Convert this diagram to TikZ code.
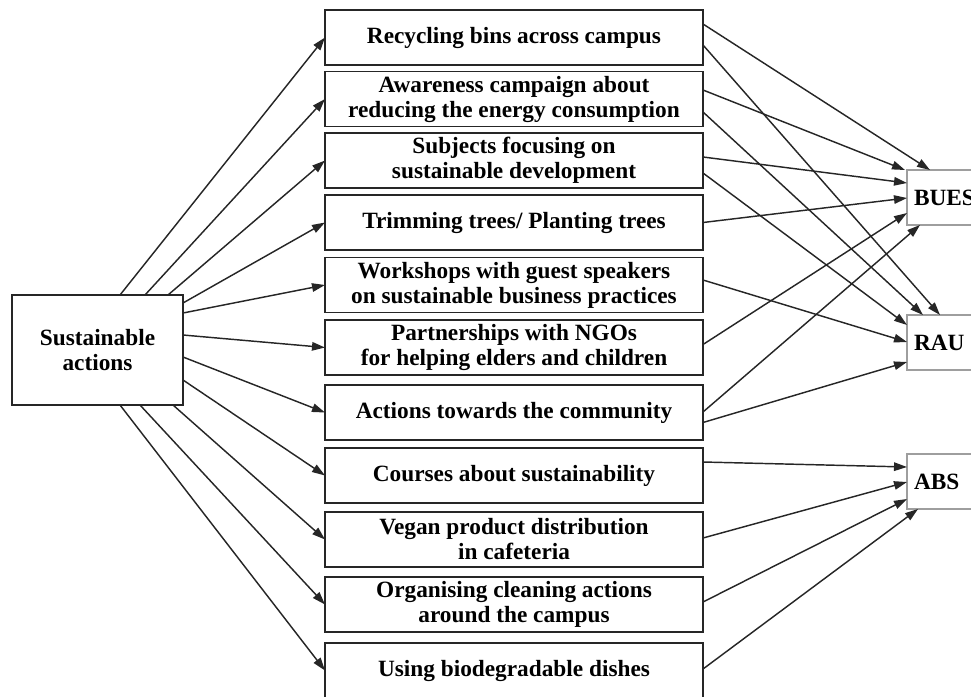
\documentclass[tikz,border=0pt]{standalone}
\usepackage{fontspec}
\setmainfont{Liberation Serif}
\usetikzlibrary{arrows.meta,calc}
\begin{document}
\begin{tikzpicture}[x=1pt,y=-1pt,
  every node/.style={font=\bfseries\fontsize{23.3}{25}\selectfont, outer sep=0pt},
  mbox/.style={draw=black!85, line width=1.5pt, minimum width=378pt, minimum height=55pt, align=center, inner sep=0pt},
  lbox/.style={draw=black!85, line width=1.5pt, minimum width=171pt, minimum height=110pt, align=center, inner sep=0pt},
  rbox/.style={draw=black!38, line width=1.3pt, anchor=north west, minimum height=55pt, text width=86pt, align=left, inner xsep=7pt, inner ysep=0pt},
  arr/.style={-{Triangle[length=13pt,width=8.5pt]}, line width=1.45pt, black!85}]
\useasboundingbox (0,0) rectangle (971,696);
\clip (0,0) rectangle (971,696);

\node[lbox] (L) at (97.5,350) {Sustainable\\actions};

\node[mbox] (m1) at (514,37.5) {Recycling bins across campus};
\node[mbox] (m2) at (514,99) {Awareness campaign about\\reducing the energy consumption};
\node[mbox] (m3) at (514,160.5) {Subjects focusing on\\sustainable development};
\node[mbox] (m4) at (514,222.5) {Trimming trees/ Planting trees};
\node[mbox] (m5) at (514,285) {Workshops with guest speakers\\on sustainable business practices};
\node[mbox] (m6) at (514,347.5) {Partnerships with NGOs\\for helping elders and children};
\node[mbox] (m7) at (514,412.5) {Actions towards the community};
\node[mbox] (m8) at (514,475.5) {Courses about sustainability};
\node[mbox] (m9) at (514,539.5) {Vegan product distribution\\in cafeteria};
\node[mbox] (m10) at (514,604.5) {Organising cleaning actions\\around the campus};
\node[mbox] (m11) at (514,670.5) {Using biodegradable dishes};

\node[rbox] (B) at (907,170) {BUES};
\node[rbox] (R) at (907,315) {RAU};
\node[rbox] (A) at (907,454) {ABS};

% left box to actions
\draw[arr] ($(L.north west)+(108,0)$) -- (m1.west);
\draw[arr] ($(L.north west)+(133,0)$) -- (m2.west);
\draw[arr] ($(L.north west)+(156,0)$) -- (m3.west);
\draw[arr] ($(L.north east)+(0,8)$) -- (m4.west);
\draw[arr] ($(L.north east)+(0,18)$) -- (m5.west);
\draw[arr] ($(L.north east)+(0,40)$) -- (m6.west);
\draw[arr] ($(L.north east)+(0,62)$) -- (m7.west);
\draw[arr] ($(L.north east)+(0,85)$) -- (m8.west);
\draw[arr] ($(L.south west)+(161,0)$) -- (m9.west);
\draw[arr] ($(L.south west)+(128,0)$) -- (m10.west);
\draw[arr] ($(L.south west)+(108,0)$) -- (m11.west);

% actions to universities
\draw[arr] ($(m1.east)+(0,-13.5)$) -- ($(B.north west)+(23,0)$);
\draw[arr] ($(m1.east)+(0,7.5)$) -- ($(R.north west)+(33,0)$);
\draw[arr] ($(m2.east)+(0,-9)$) -- ($(B.north west)+(-2,0)$);
\draw[arr] ($(m2.east)+(0,13)$) -- ($(R.north west)+(16,0)$);
\draw[arr] ($(m3.east)+(0,-3.5)$) -- ($(B.north west)+(0,13)$);
\draw[arr] ($(m3.east)+(0,12.5)$) -- ($(R.north west)+(0,10)$);
\draw[arr] (m4.east) -- ($(B.north west)+(0,28)$);
\draw[arr] ($(m5.east)+(0,-5)$) -- ($(R.north west)+(0,27)$);
\draw[arr] ($(m6.east)+(0,-3)$) -- ($(B.north west)+(0,43)$);
\draw[arr] ($(m7.east)+(0,-0.5)$) -- ($(B.north west)+(13,55)$);
\draw[arr] ($(m7.east)+(0,10)$) -- ($(R.north west)+(0,47)$);
\draw[arr] ($(m8.east)+(0,-13.5)$) -- ($(A.north west)+(0,13)$);
\draw[arr] ($(m9.east)+(0,-1.5)$) -- ($(A.north west)+(0,28)$);
\draw[arr] ($(m10.east)+(0,-2.5)$) -- ($(A.north west)+(0,45)$);
\draw[arr] ($(m11.east)+(0,-1.5)$) -- ($(A.north west)+(11,55)$);
\end{tikzpicture}
\end{document}
